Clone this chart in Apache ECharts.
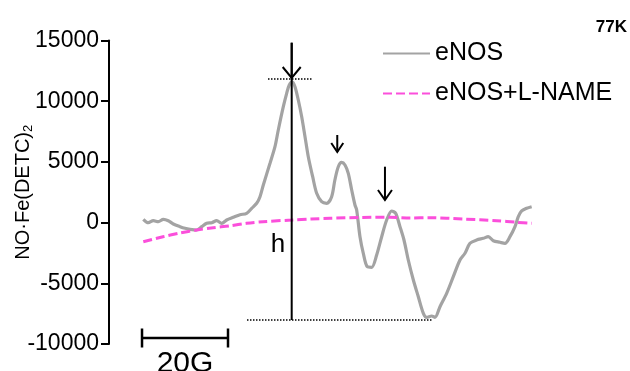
<!DOCTYPE html>
<html>
<head>
<meta charset="utf-8">
<script src="https://cdn.jsdelivr.net/npm/echarts@6/dist/echarts.min.js"></script>
<style>
  html, body { margin: 0; padding: 0; background: #fff; }
  #chart { width: 630px; height: 371px; }
</style>
</head>
<body>
<div id="chart"></div>
<script>
// magnetic field (G, arbitrary origin) and signal
const enosField = [8.07, 9.24, 10.42, 11.59, 12.77, 13.94, 15.11, 16.69, 17.86, 19.04, 20.6, 21.79, 22.96, 24.14,
  25.31, 26.49, 27.66, 29.22, 30.79, 32.35, 33.54, 34.71, 35.49, 36.27, 37.84, 39.01, 39.79, 40.97, 41.76, 42.37,
  43.08, 43.71, 44.49, 45.29, 46.07, 46.84, 47.87, 48.81, 49.98, 51.16, 52.33, 53.09, 53.89, 54.68, 55.46, 56.24,
  57.04, 57.81, 58.21, 58.99, 59.77, 60.71, 61.74, 62.91, 64.09, 65.26, 66.44, 67.37, 68.39, 69.33, 70.34, 71.53,
  72.7, 73.88, 74.66, 75.84, 76.62, 77.79, 79.36, 80.92, 82.49, 83.67, 84.84, 86.41, 87.97, 89.15, 90.32, 91.89,
  93.07, 94.24, 95.42, 96.2, 96.99, 98.17, 99.34];
const enosSignal = [272, -8, 157, 74, 272, 157, -115, -337, -470, -552, -610, -337, -58, -8,
  157, -58, 214, 437, 651, 766, 1178, 1590, 2133, 3097, 4884, 6252, 7628, 9547, 10650, 11334,
  11600, 11194, 10099, 8723, 7076, 5428, 3781, 2413, 1722, 1590, 2133, 3509, 4604, 4960, 4745, 4061,
  2685, 1450, 1038, -1161, -2529, -3632, -3682, -2669, -1161, 214, 956, 766, -337, -1433, -3081, -4728,
  -6104, -7471, -7801, -7693, -7801, -6927, -5824, -4456, -3081, -2529, -1705, -1433, -1293, -1161, -1491, -1623,
  -1705, -1161, -337, 486, 956, 1178, 1310];

const lnameField = [8.06, 12.69, 16.69, 20.61, 24.5, 28.44, 32.3, 36.19, 42.94, 47.5, 51.94, 59.0, 66.04, 70.8, 75.44,
  83.2, 91.12, 95.82, 99.34];
const lnameSignal = [-1573, -1161, -857, -610, -420, -264, -60, 74, 214, 300, 354, 420, 437, 380, 404,
  297, 157, 25, -58];

const yTicks = [-10000, -5000, 0, 5000, 10000, 15000];

// annotations in data units: [field, top, tip]
const arrows = [[42.94, 14818, 11911], [53.65, 7216, 5816], [64.86, 4605, 1861]];
const arrowHeads = [[9, 11], [6, 9], [7, 10]];
const heightLine = [42.94, 14818, -8023];
const dottedLines = [[37.37, 47.94, 11828], [32.43, 76.15, -8023]];
const hLabel = [39.72, -1845];
const scaleBar = [7.76, 27.97, -9506];

const FONT = '"Liberation Sans", Arial, Helvetica, sans-serif';

function pairs(xs, ys) {
  return xs.map((x, i) => [x, ys[i]]);
}

const chart = echarts.init(document.getElementById('chart'));

const option = {
  backgroundColor: '#fff',
  animation: false,
  grid: { left: 109, right: 70, top: 40.5, bottom: 27, containLabel: false, outerBoundsMode: 'none' },
  xAxis: { type: 'value', min: 0, max: 106, show: false },
  yAxis: {
    type: 'value',
    min: yTicks[0],
    max: yTicks[yTicks.length - 1],
    interval: 5000,
    name: 'NO·Fe(DETC){sub|2}',
    nameLocation: 'middle',
    nameGap: 74,
    nameMoveOverlap: false,
    nameTextStyle: {
      color: '#000', fontSize: 20, fontFamily: FONT,
      rich: { sub: { fontSize: 13, fontFamily: FONT, color: '#000', verticalAlign: 'bottom', padding: [10, 0, 0, 0] } }
    },
    axisLine: { show: true, lineStyle: { color: '#000', width: 2 } },
    axisTick: { show: true, length: 8, lineStyle: { color: '#000', width: 2 } },
    axisLabel: { color: '#000', fontSize: 23, fontFamily: FONT, margin: 10, formatter: function (v) { return String(v); } },
    splitLine: { show: false }
  },
  legend: {
    orient: 'vertical',
    left: 377,
    top: 36,
    itemWidth: 47,
    itemHeight: 14,
    itemGap: 15,
    itemStyle: { opacity: 0 },
    textStyle: { color: '#000', fontSize: 25, fontFamily: FONT, lineHeight: 25 },
    data: ['eNOS', 'eNOS+L-NAME']
  },
  graphic: [
    { type: 'text', right: 3, top: 19, style: { text: '77K', font: 'bold 17px ' + FONT, fill: '#000' } }
  ],
  series: [
    {
      name: 'eNOS',
      type: 'line',
      data: pairs(enosField, enosSignal),
      symbol: 'none',
      smooth: 0.3,
      lineStyle: { color: '#a3a3a3', width: 3.2 },
      itemStyle: { color: '#a3a3a3' },
      z: 3
    },
    {
      name: 'eNOS+L-NAME',
      type: 'line',
      data: pairs(lnameField, lnameSignal),
      symbol: 'none',
      smooth: 0.3,
      lineStyle: { color: '#fb4fdb', width: 3, type: [9, 4] },
      itemStyle: { color: '#fb4fdb' },
      z: 4
    },
    {
      // arrows marking the peaks
      type: 'custom',
      silent: true,
      clip: false,
      z: 5,
      encode: { x: 0, y: [1, 2] },
      data: arrows,
      renderItem: function (params, api) {
        const top = api.coord([api.value(0), api.value(1)]);
        const tip = api.coord([api.value(0), api.value(2)]);
        const hd = arrowHeads[params.dataIndex];
        const st = { stroke: '#000', lineWidth: 2, fill: null };
        return {
          type: 'group',
          children: [
            { type: 'line', shape: { x1: top[0], y1: top[1], x2: tip[0], y2: tip[1] }, style: st },
            { type: 'polyline', shape: { points: [[tip[0] - hd[0], tip[1] - hd[1]], tip, [tip[0] + hd[0], tip[1] - hd[1]]] }, style: st }
          ]
        };
      }
    },
    {
      // height line, dotted guides, h label, field scale bar
      type: 'custom',
      silent: true,
      clip: false,
      z: 5,
      data: [0],
      encode: { x: -1, y: -1 },
      renderItem: function (params, api) {
        const children = [];
        const a = api.coord([heightLine[0], heightLine[1]]);
        const b = api.coord([heightLine[0], heightLine[2]]);
        children.push({ type: 'line', shape: { x1: a[0], y1: a[1], x2: b[0], y2: b[1] }, style: { stroke: '#000', lineWidth: 2 } });
        dottedLines.forEach(function (d) {
          const p = api.coord([d[0], d[2]]);
          const q = api.coord([d[1], d[2]]);
          children.push({ type: 'line', shape: { x1: p[0], y1: p[1], x2: q[0], y2: q[1] }, style: { stroke: '#000', lineWidth: 1.5, lineDash: [1.5, 1.5] } });
        });
        const hp = api.coord(hLabel);
        children.push({ type: 'text', style: { text: 'h', x: hp[0], y: hp[1], font: '26px ' + FONT, fill: '#000', align: 'center', verticalAlign: 'middle' } });
        const s1 = api.coord([scaleBar[0], scaleBar[2]]);
        const s2 = api.coord([scaleBar[1], scaleBar[2]]);
        const bar = { stroke: '#000', lineWidth: 2.5 };
        children.push({ type: 'line', shape: { x1: s1[0], y1: s1[1], x2: s2[0], y2: s2[1] }, style: bar });
        children.push({ type: 'line', shape: { x1: s1[0], y1: s1[1] - 9.5, x2: s1[0], y2: s1[1] + 9.5 }, style: bar });
        children.push({ type: 'line', shape: { x1: s2[0], y1: s2[1] - 9.5, x2: s2[0], y2: s2[1] + 9.5 }, style: bar });
        children.push({ type: 'text', style: { text: '20G', x: (s1[0] + s2[0]) / 2, y: s1[1] + 11, font: '30px ' + FONT, fill: '#000', align: 'center', verticalAlign: 'top' } });
        return { type: 'group', children: children };
      }
    }
  ]
};

chart.setOption(option);
</script>
</body>
</html>
